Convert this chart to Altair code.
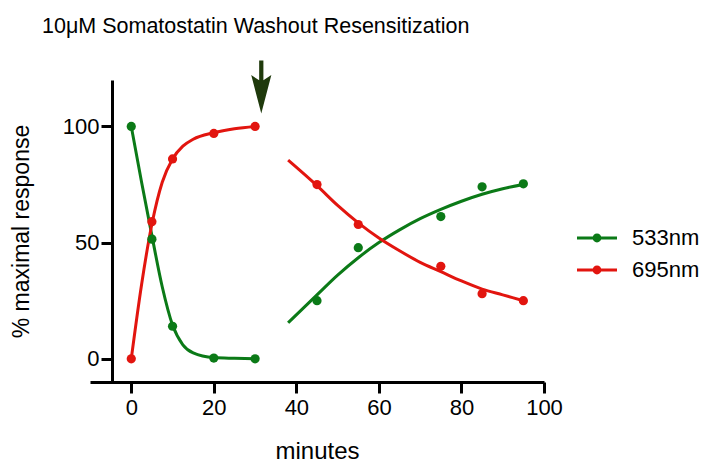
import altair as alt
import pandas as pd

# ---- data ----
series_names = ["533nm", "695nm"]
colors = ["#0b7a17", "#e2150f"]

minutes_pts = [0, 5, 10, 20, 30, 45, 55, 75, 85, 95]
resp_533 = [100, 51.5, 14, 0.3, 0, 25, 47.8, 61.2, 74, 75.3]
resp_695 = [0, 59, 86, 97, 100, 75, 57.8, 39.8, 28, 25]

# fitted curves
curve1_min = [0, 2.5, 5, 7.5, 10, 12.5, 15, 20, 25, 30]
curve1_533 = [100, 76, 53, 31, 14.5, 6, 2.5, 0.5, 0.2, 0]
curve1_695 = [0, 32, 58, 76, 86, 91.5, 94.5, 97.3, 99, 100]

curve2_min = [38, 45, 50, 55, 60, 65, 70, 75, 80, 85, 90, 95]
curve2_533 = [15.5, 27.5, 36, 43.5, 50, 55.5, 60.3, 64.3, 67.8, 70.8, 73.2, 75]
curve2_695 = [85.5, 74.5, 66, 58.5, 52, 46.5, 41.5, 37.5, 33.5, 30, 27.5, 25]

arrow_x = [31.5]
arrow_y = [117]

title_text = "10μM Somatostatin Washout Resensitization"
x_title = "minutes"
y_title = "% maximal response"

# ---- tables ----
pts = pd.DataFrame(
    [{"minutes": m, "response": r, "series": "533nm"} for m, r in zip(minutes_pts, resp_533)]
    + [{"minutes": m, "response": r, "series": "695nm"} for m, r in zip(minutes_pts, resp_695)]
)

rows = []
for s, c1, c2 in [("533nm", curve1_533, curve2_533), ("695nm", curve1_695, curve2_695)]:
    for m, r in zip(curve1_min, c1):
        rows.append({"minutes": m, "response": r, "line_series": s, "seg": s + "-1"})
    for m, r in zip(curve2_min, c2):
        rows.append({"minutes": m, "response": r, "line_series": s, "seg": s + "-2"})
curves = pd.DataFrame(rows)

arrow = pd.DataFrame({"minutes": arrow_x, "response": arrow_y})

FONT = "Liberation Sans"

xscale = alt.Scale(domain=[-10, 100], nice=False, zero=False)
yscale = alt.Scale(domain=[-10, 120], nice=False, zero=False)

xax = alt.Axis(values=[0, 20, 40, 60, 80, 100], grid=False, tickSize=11, tickWidth=3,
               domainWidth=3, domainColor="black", tickColor="black", labelFlush=False,
               labelFontSize=22, labelFont=FONT, labelColor="black", labelPadding=4,
               title=x_title, titleFontSize=24, titleFont=FONT, titleFontWeight="normal",
               titleColor="black", titlePadding=21)
yax = alt.Axis(values=[0, 50, 100], grid=False, tickSize=11, tickWidth=3,
               domainWidth=3, domainColor="black", tickColor="black", labelFlush=False,
               labelFontSize=22, labelFont=FONT, labelColor="black", labelPadding=2,
               title=y_title, titleFontSize=23, titleFont=FONT, titleFontWeight="normal",
               titleColor="black", titlePadding=29, offset=-22)

# stroke scale lists the series in the other order so it is not merged with the fill legend
lines = alt.Chart(curves).mark_line(strokeWidth=3, interpolate="monotone").encode(
    x=alt.X("minutes:Q", scale=xscale, axis=xax),
    y=alt.Y("response:Q", scale=yscale, axis=yax),
    stroke=alt.Stroke("line_series:N",
                      scale=alt.Scale(domain=series_names[::-1], range=colors[::-1]),
                      legend=None),
    detail="seg:N",
)

legend_path = ("M-2.5,-0.19 L2.5,-0.19 L2.5,0.19 L-2.5,0.19 Z "
               "M-0.55,0 A0.55,0.55 0 1,1 0.55,0 A0.55,0.55 0 1,1 -0.55,0 Z")

points = alt.Chart(pts).mark_point(filled=True, size=85, opacity=1, shape="circle").encode(
    x="minutes:Q",
    y="response:Q",
    fill=alt.Fill("series:N", scale=alt.Scale(domain=series_names, range=colors),
                  legend=alt.Legend(title=None, orient="none", legendX=496, legendY=147,
                                    symbolType=legend_path, symbolSize=256,
                                    symbolStrokeWidth=0, labelFontSize=22, labelFont=FONT,
                                    labelColor="black", labelOffset=24, rowPadding=10,
                                    padding=0)),
)

arrow_path = ("M-0.08,-1 L0.08,-1 L0.08,-0.25 L0.38,-0.45 L0,1 "
              "L-0.38,-0.45 L-0.08,-0.25 Z")
arrow_mark = alt.Chart(arrow).mark_point(filled=True, shape=arrow_path, size=2809,
                                          color="#1f3a0c", opacity=1).encode(
    x="minutes:Q", y="response:Q"
)

chart = alt.layer(lines, points, arrow_mark).properties(
    width=454, height=302,
    title=alt.TitleParams(title_text, anchor="start", frame="group", dx=-48, offset=23,
                          fontSize=21.5, font=FONT, fontWeight="normal", color="black"),
    autosize=alt.AutoSizeParams(type="none"),
    padding={"left": 82, "top": 72, "right": 160, "bottom": 81},
).configure_view(stroke=None)

chart.save("out.html", embed_options={"renderer": "svg", "actions": False})
